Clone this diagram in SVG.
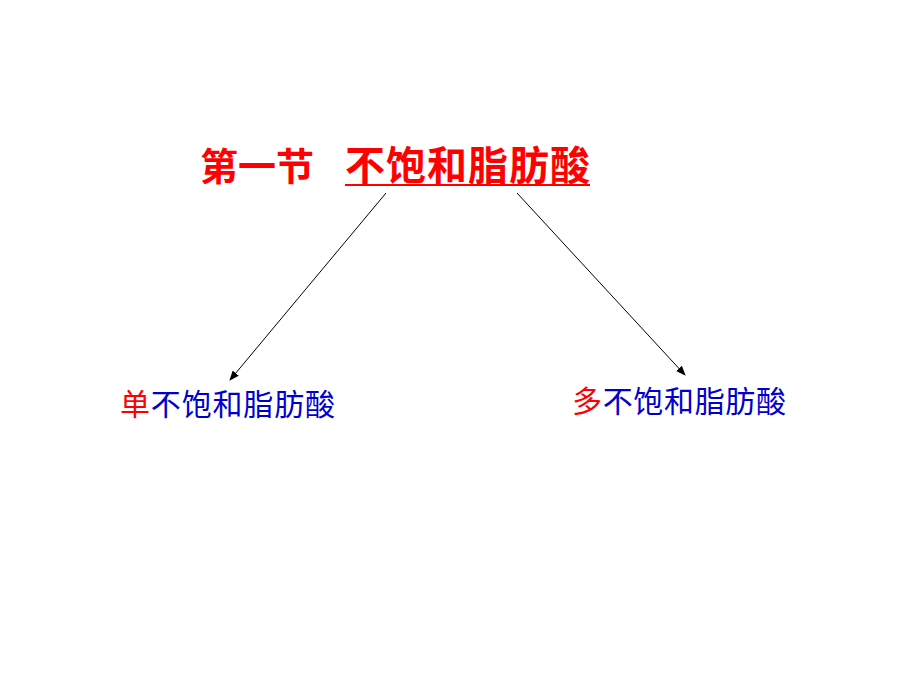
<svg xmlns="http://www.w3.org/2000/svg" width="920" height="690" viewBox="0 0 920 690">
<style>
.t{font-family:"Noto Sans CJK SC","Liberation Sans",sans-serif;}
.r{fill:#ff0000}.b{fill:#0000cc}
.c{stroke:#000;stroke-width:1;fill:none;marker-end:url(#a)}
</style>
<defs><marker id="a" markerWidth="10" markerHeight="8" refX="9" refY="4" orient="auto" markerUnits="userSpaceOnUse"><path d="M0,0 L10,4 L0,8 Z" fill="#000"/></marker></defs>
<rect width="920" height="690" fill="#fff"/>
<g id="title"><text class="t r" x="200" y="180" font-size="38" font-weight="bold">第一节</text>
<text class="t r" x="345" y="180" font-size="40" textLength="245" font-weight="bold">不饱和脂肪酸</text>
<line x1="345" y1="185" x2="590" y2="185" stroke="#ff0000" stroke-width="2"/></g>
<g id="left"><text class="t" x="120" y="415" font-size="30" textLength="215"><tspan class="r">单</tspan><tspan class="b">不饱和脂肪酸</tspan></text></g>
<g id="right"><text class="t" x="572" y="412" font-size="30" textLength="214"><tspan class="r">多</tspan><tspan class="b">不饱和脂肪酸</tspan></text></g>
<g id="connectors"><line class="c" x1="386" y1="193" x2="230" y2="380"/><line class="c" x1="517" y1="193" x2="685" y2="375"/></g>
</svg>
